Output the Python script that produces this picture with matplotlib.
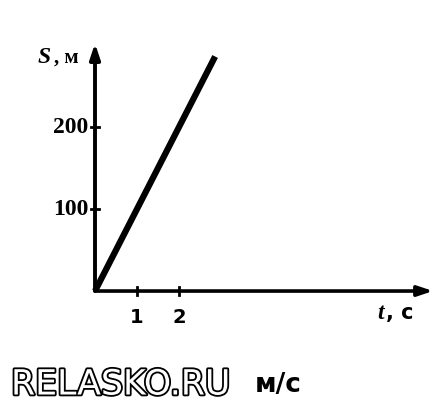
import matplotlib
matplotlib.use("Agg")
import matplotlib.pyplot as plt
import matplotlib.patheffects as pe

# data: S = v * t, v = 100 m/s
t_line = [0, 2.86]
v = 100
s_line = [v * t for t in t_line]
x_ticks = [1, 2]
y_ticks = [100, 200]

fig = plt.figure(figsize=(4.46, 4.11), dpi=100)
ax = fig.add_axes([0, 0, 1, 1])
ax.set_xlim(-2.262, 8.357)
ax.set_ylim(-146.3, 354.9)
ax.axis("off")

serif = "Liberation Serif"

# axes with arrows
ax.annotate("", xy=(8.05, 0), xytext=(0, 0),
            arrowprops=dict(arrowstyle="-|>,head_length=0.9,head_width=0.3",
                            lw=2.6, color="black", shrinkA=0, shrinkB=0))
ax.annotate("", xy=(0, 302), xytext=(0, 0),
            arrowprops=dict(arrowstyle="-|>,head_length=0.9,head_width=0.3",
                            lw=2.8, color="black", shrinkA=0, shrinkB=0))

# ticks
for xt in x_ticks:
    ax.plot([xt, xt], [-5, 5], color="black", lw=2)
    ax.text(xt, -21, str(xt), ha="center", va="top", fontsize=14,
            fontweight="bold", family="DejaVu Sans")
for yt in y_ticks:
    ax.plot([-0.09, 0.09], [yt, yt], color="black", lw=2)
    ax.text(-0.16, yt, str(yt), ha="right", va="center", fontsize=17,
            fontweight="bold", family=serif)

# line
ax.plot(t_line, s_line, color="black", lw=4.5, solid_capstyle="butt")

# axis labels
ax.text(-1.36, 285, "S", ha="left", va="center", fontsize=17,
        fontweight="bold", style="italic", family=serif)
ax.text(-0.98, 285, ", м", ha="left", va="center", fontsize=15,
        fontweight="bold", family=serif)
ax.text(6.72, -27, "t", ha="left", va="center", fontsize=17,
        fontweight="bold", style="italic", family=serif)
ax.text(6.92, -27, ", с", ha="left", va="center", fontsize=15,
        fontweight="bold", family="DejaVu Sans")

# answer units and watermark
ax.text(3.8, -114, "м/с", ha="left", va="center", fontsize=19,
        fontweight="bold", family="DejaVu Sans")
wm = ax.text(-2.0, -114, "RELASKO.RU", ha="left", va="center", fontsize=25,
             color="white", family="DejaVu Sans")
wm.set_path_effects([pe.Stroke(linewidth=2.6, foreground="black"), pe.Normal()])

fig.savefig("out.png", dpi=100, facecolor="white")
